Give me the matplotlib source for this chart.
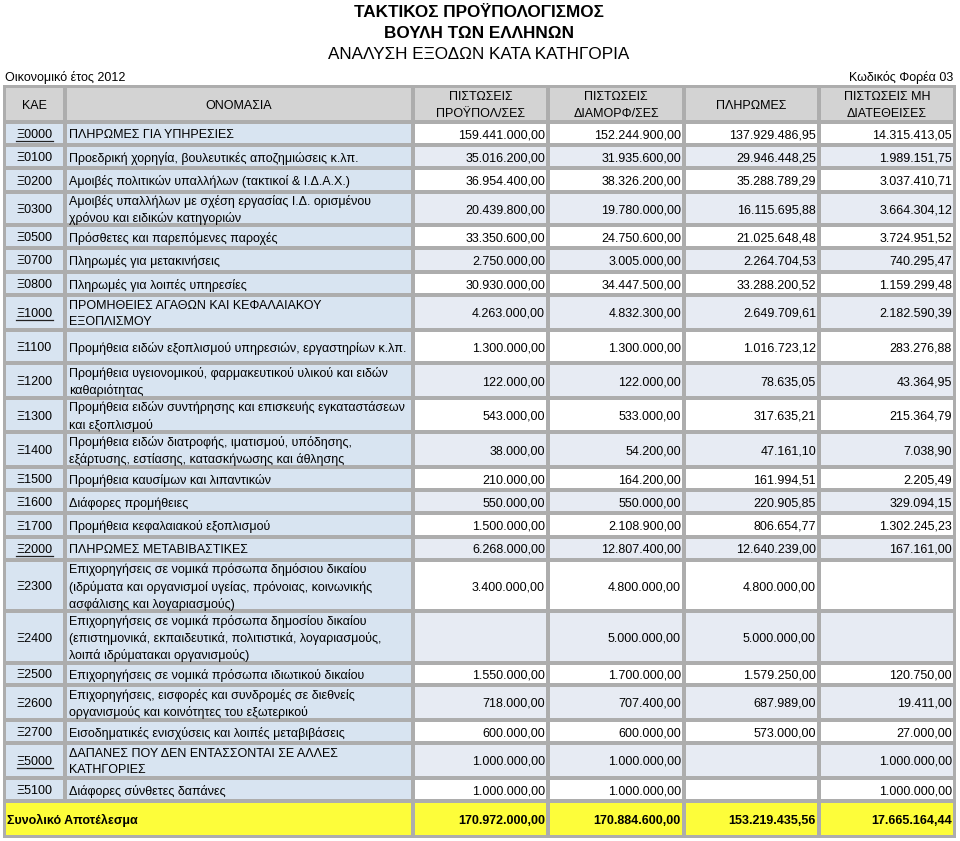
import matplotlib
matplotlib.use("Agg")
import matplotlib.pyplot as plt
from matplotlib.patches import Rectangle

plt.rcParams['font.family'] = ['Liberation Sans', 'DejaVu Sans']

# ---------------- data ----------------
title1 = "ΤΑΚΤΙΚΟΣ ΠΡΟΫΠΟΛΟΓΙΣΜΟΣ"
title2 = "ΒΟΥΛΗ ΤΩΝ ΕΛΛΗΝΩΝ"
title3 = "ΑΝΑΛΥΣΗ ΕΞΟΔΩΝ ΚΑΤΑ ΚΑΤΗΓΟΡΙΑ"
left_note = "Οικονομικό έτος 2012"
right_note = "Κωδικός Φορέα 03"

headers = ["ΚΑΕ", "ΟΝΟΜΑΣΙΑ", "ΠΙΣΤΩΣΕΙΣ\nΠΡΟΫΠΟΛ/ΣΕΣ", "ΠΙΣΤΩΣΕΙΣ\nΔΙΑΜΟΡΦ/ΣΕΣ",
           "ΠΛΗΡΩΜΕΣ", "ΠΙΣΤΩΣΕΙΣ ΜΗ\nΔΙΑΤΕΘΕΙΣΕΣ"]

codes = ["Ξ0000", "Ξ0100", "Ξ0200", "Ξ0300", "Ξ0500", "Ξ0700", "Ξ0800", "Ξ1000",
         "Ξ1100", "Ξ1200", "Ξ1300", "Ξ1400", "Ξ1500", "Ξ1600", "Ξ1700", "Ξ2000",
         "Ξ2300", "Ξ2400", "Ξ2500", "Ξ2600", "Ξ2700", "Ξ5000", "Ξ5100"]
underlined_codes = ["Ξ0000", "Ξ1000", "Ξ2000", "Ξ5000"]

names = [
    "ΠΛΗΡΩΜΕΣ ΓΙΑ ΥΠΗΡΕΣΙΕΣ",
    "Προεδρική χορηγία, βουλευτικές αποζημιώσεις κ.λπ.",
    "Αμοιβές πολιτικών υπαλλήλων (τακτικοί & Ι.Δ.Α.Χ.)",
    "Αμοιβές υπαλλήλων με σχέση εργασίας Ι.Δ. ορισμένου\nχρόνου και ειδικών κατηγοριών",
    "Πρόσθετες και παρεπόμενες παροχές",
    "Πληρωμές για μετακινήσεις",
    "Πληρωμές για λοιπές υπηρεσίες",
    "ΠΡΟΜΗΘΕΙΕΣ ΑΓΑΘΩΝ ΚΑΙ ΚΕΦΑΛΑΙΑΚΟΥ\nΕΞΟΠΛΙΣΜΟΥ",
    "Προμήθεια ειδών εξοπλισμού υπηρεσιών, εργαστηρίων κ.λπ.",
    "Προμήθεια υγειονομικού, φαρμακευτικού υλικού και ειδών\nκαθαριότητας",
    "Προμήθεια ειδών συντήρησης και επισκευής εγκαταστάσεων\nκαι εξοπλισμού",
    "Προμήθεια ειδών διατροφής, ιματισμού, υπόδησης,\nεξάρτυσης, εστίασης, κατασκήνωσης και άθλησης",
    "Προμήθεια καυσίμων και λιπαντικών",
    "Διάφορες προμήθειες",
    "Προμήθεια κεφαλαιακού εξοπλισμού",
    "ΠΛΗΡΩΜΕΣ ΜΕΤΑΒΙΒΑΣΤΙΚΕΣ",
    "Επιχορηγήσεις σε νομικά πρόσωπα δημόσιου δικαίου\n(ιδρύματα και οργανισμοί υγείας, πρόνοιας, κοινωνικής\nασφάλισης και λογαριασμούς)",
    "Επιχορηγήσεις σε νομικά πρόσωπα δημοσίου δικαίου\n(επιστημονικά, εκπαιδευτικά, πολιτιστικά, λογαριασμούς,\nλοιπά ιδρύματακαι οργανισμούς)",
    "Επιχορηγήσεις σε νομικά πρόσωπα ιδιωτικού δικαίου",
    "Επιχορηγήσεις, εισφορές και συνδρομές σε διεθνείς\nοργανισμούς και κοινότητες του εξωτερικού",
    "Εισοδηματικές ενισχύσεις και λοιπές μεταβιβάσεις",
    "ΔΑΠΑΝΕΣ ΠΟΥ ΔΕΝ ΕΝΤΑΣΣΟΝΤΑΙ ΣΕ ΑΛΛΕΣ\nΚΑΤΗΓΟΡΙΕΣ",
    "Διάφορες σύνθετες δαπάνες",
]

budget = [159441000.00, 35016200.00, 36954400.00, 20439800.00, 33350600.00, 2750000.00,
          30930000.00, 4263000.00, 1300000.00, 122000.00, 543000.00, 38000.00,
          210000.00, 550000.00, 1500000.00, 6268000.00, 3400000.00, None,
          1550000.00, 718000.00, 600000.00, 1000000.00, 1000000.00]
revised = [152244900.00, 31935600.00, 38326200.00, 19780000.00, 24750600.00, 3005000.00,
           34447500.00, 4832300.00, 1300000.00, 122000.00, 533000.00, 54200.00,
           164200.00, 550000.00, 2108900.00, 12807400.00, 4800000.00, 5000000.00,
           1700000.00, 707400.00, 600000.00, 1000000.00, 1000000.00]
payments = [137929486.95, 29946448.25, 35288789.29, 16115695.88, 21025648.48, 2264704.53,
            33288200.52, 2649709.61, 1016723.12, 78635.05, 317635.21, 47161.10,
            161994.51, 220905.85, 806654.77, 12640239.00, 4800000.00, 5000000.00,
            1579250.00, 687989.00, 573000.00, None, None]
unallocated = [14315413.05, 1989151.75, 3037410.71, 3664304.12, 3724951.52, 740295.47,
               1159299.48, 2182590.39, 283276.88, 43364.95, 215364.79, 7038.90,
               2205.49, 329094.15, 1302245.23, 167161.00, None, None,
               120750.00, 19411.00, 27000.00, 1000000.00, 1000000.00]

total_label = "Συνολικό Αποτέλεσμα"
totals = [170972000.00, 170884600.00, 153219435.56, 17665164.44]

# ---------------- layout (pixels) ----------------
W, H = 960, 841
col_edges = [4, 65, 413, 548, 684, 819, 955]
row_edges = [86, 122, 145, 168, 192, 225, 248, 272, 295, 330, 363, 398, 432, 467,
             490, 513, 537, 560, 611, 663, 685, 720, 743, 778, 801, 837]

FS = 9.0
LS = 1.45
GRID = "#adadad"
HEAD = "#d3d3d3"
NAMEBG = "#d8e4f1"
ALT = "#e7ebf3"
WHITE = "#ffffff"
YELLOW = "#fdfd3a"


def fmt(v):
    if v is None:
        return ""
    s = f"{v:,.2f}"
    return s.replace(",", "X").replace(".", ",").replace("X", ".")


fig = plt.figure(figsize=(W / 100, H / 100), dpi=100)
ax = fig.add_axes([0, 0, 1, 1])
ax.set_xlim(0, W)
ax.set_ylim(H, 0)
ax.axis("off")

# titles
ax.text(479, 12, title1, ha="center", va="center", fontsize=12.3, fontweight="bold")
ax.text(479, 33, title2, ha="center", va="center", fontsize=12.3, fontweight="bold")
ax.text(479, 54, title3, ha="center", va="center", fontsize=12.3)
ax.text(5, 77, left_note, ha="left", va="center", fontsize=FS)
ax.text(953, 77, right_note, ha="right", va="center", fontsize=FS)

# grid background
ax.add_patch(Rectangle((col_edges[0] - 1, row_edges[0] - 1),
                       col_edges[-1] - col_edges[0] + 2, row_edges[-1] - row_edges[0] + 2,
                       facecolor=GRID, edgecolor="none"))

g = 1.6  # half gap


def cell(x0, x1, y0, y1, color):
    ax.add_patch(Rectangle((x0 + g, y0 + g), x1 - x0 - 2 * g, y1 - y0 - 2 * g,
                           facecolor=color, edgecolor="none"))


DY = 1.5
# header row
y0, y1 = row_edges[0], row_edges[1]
for j, h in enumerate(headers):
    cell(col_edges[j], col_edges[j + 1], y0, y1, HEAD)
    ax.text((col_edges[j] + col_edges[j + 1]) / 2, (y0 + y1) / 2 + DY, h,
            ha="center", va="center", fontsize=FS, linespacing=LS, multialignment="center")

fig.canvas.draw()
renderer = fig.canvas.get_renderer()
inv = ax.transData.inverted()

value_cols = [budget, revised, payments, unallocated]
for i, code in enumerate(codes):
    y0, y1 = row_edges[i + 1], row_edges[i + 2]
    yc = (y0 + y1) / 2 + DY
    bg = WHITE if i % 2 == 0 else ALT
    cell(col_edges[0], col_edges[1], y0, y1, NAMEBG)
    cell(col_edges[1], col_edges[2], y0, y1, NAMEBG)
    for j in range(4):
        cell(col_edges[j + 2], col_edges[j + 3], y0, y1, bg)
    t = ax.text((col_edges[0] + col_edges[1]) / 2, yc, code, ha="center", va="center",
                fontsize=FS)
    if code in underlined_codes:
        bb = t.get_window_extent(renderer)
        (bx0, by0), (bx1, by1) = inv.transform([(bb.x0, bb.y0), (bb.x1, bb.y1)])
        ax.plot([bx0, bx1], [by0 - 0.5, by0 - 0.5], color="#222222", lw=0.9)
    ax.text(col_edges[1] + 4, yc, names[i], ha="left", va="center", fontsize=FS,
            linespacing=LS)
    for j, col in enumerate(value_cols):
        ax.text(col_edges[j + 3] - 3, yc, fmt(col[i]), ha="right", va="center", fontsize=FS)

# totals row
y0, y1 = row_edges[-2], row_edges[-1]
yc = (y0 + y1) / 2 + DY
cell(col_edges[0], col_edges[2], y0, y1, YELLOW)
for j in range(4):
    cell(col_edges[j + 2], col_edges[j + 3], y0, y1, YELLOW)
ax.text(col_edges[0] + 3, yc, total_label, ha="left", va="center", fontsize=FS,
        fontweight="bold")
for j, v in enumerate(totals):
    ax.text(col_edges[j + 3] - 3, yc, fmt(v), ha="right", va="center", fontsize=FS,
            fontweight="bold")

fig.savefig("out.png", dpi=100)
